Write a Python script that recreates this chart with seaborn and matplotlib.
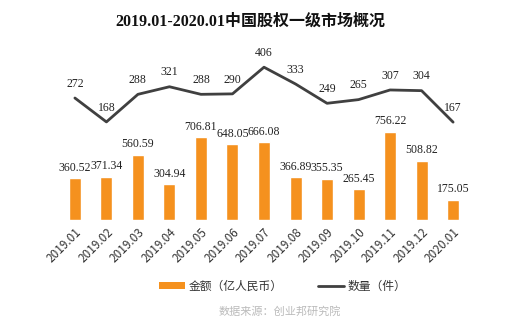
import numpy as np
import pandas as pd
import matplotlib
matplotlib.use('Agg')
import matplotlib.pyplot as plt
import seaborn as sns
from matplotlib.patches import Patch
from matplotlib.lines import Line2D

# chart data
months = ['2019.01', '2019.02', '2019.03', '2019.04', '2019.05', '2019.06', '2019.07',
          '2019.08', '2019.09', '2019.10', '2019.11', '2019.12', '2020.01']
amount = [360.52, 371.34, 560.59, 304.94, 706.81, 648.05, 666.08,
          366.89, 355.35, 265.45, 756.22, 508.82, 175.05]
count = [272, 168, 288, 321, 288, 290, 406, 333, 249, 265, 307, 304, 167]

title = '2019.01-2020.01中国股权一级市场概况'
legend_amount = '金额（亿人民币）'
legend_count = '数量（件）'
source = '数据来源：创业邦研究院'

sns.set_theme(style='white')
plt.rcParams['font.family'] = ['Noto Sans CJK SC', 'DejaVu Sans']

bar_color = '#F5911E'
line_color = '#404040'
serif = ['Liberation Serif', 'Noto Sans CJK SC']

df = pd.DataFrame({'month': months, 'amount': amount, 'count': count})

fig = plt.figure(figsize=(5.28, 3.26), dpi=100)
ax = fig.add_axes([0.112, 0.325, 0.776, 0.521])

sns.barplot(data=df, x='month', y='amount', color=bar_color, saturation=1,
            width=0.38, ax=ax)
ax.set_ylim(0, 1453)
ax.set_xlim(-0.5, 12.5)
for i, v in enumerate(amount):
    ax.annotate(f'{v:.2f}', (i, v), xytext=(0, 3), textcoords='offset points',
                ha='center', va='bottom', fontsize=8.5, family=serif, color='#222222')

ax2 = ax.twinx()
sns.lineplot(x=np.arange(len(months)), y=count, color=line_color, linewidth=2,
             ax=ax2, sort=False)
ax2.set_ylim(-259, 480)
for i, v in enumerate(count):
    ax2.annotate(str(v), (i, v), xytext=(0, 6), textcoords='offset points',
                 ha='center', va='bottom', fontsize=8.5, family=serif, color='#222222')

for a in (ax, ax2):
    for s in a.spines.values():
        s.set_visible(False)
    a.set_yticks([])
    a.set_ylabel('')
ax.set_xlabel('')
ax.set_xticks(range(len(months)))
ax.set_xticklabels(months, rotation=45, ha='right', rotation_mode='anchor',
                   fontsize=8.5, color='#333333')
ax.tick_params(axis='x', length=0, pad=4)

fig.text(0.475, 0.935, title, ha='center', va='center', fontsize=11.5,
         fontweight='bold', family=serif, color='#111111')

handles = [Patch(facecolor=bar_color, edgecolor='none'),
           Line2D([0], [0], color=line_color, linewidth=2)]
fig.legend(handles, [legend_amount, legend_count], loc='center',
           bbox_to_anchor=(0.535, 0.122), ncol=2, frameon=False, fontsize=8.5,
           handlelength=2.2, handleheight=0.6, columnspacing=3, handletextpad=0.3,
           labelcolor='#333333')

fig.text(0.53, 0.045, source, ha='center', va='center', fontsize=8, color='#bbbbbb')

fig.savefig('out.png', dpi=100)
